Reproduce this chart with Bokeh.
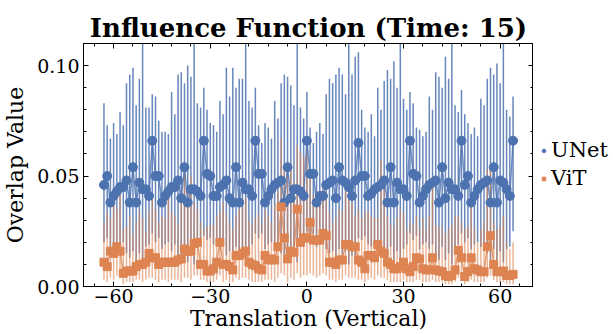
from bokeh.plotting import figure
from bokeh.layouts import row
from bokeh.models import (ColumnDataSource, Range1d, FixedTicker, LinearAxis, Legend,
                          LegendItem, NumeralTickFormatter, CustomJSTickFormatter)
from bokeh.embed import file_html
from bokeh.resources import INLINE

x = list(range(-63, 65))

unet_mean = [
    0.046, 0.050, 0.038, 0.041, 0.043, 0.045, 0.045, 0.048, 0.038, 0.054, 0.038, 0.047, 0.044, 0.044, 0.041,
    0.066, 0.050, 0.050, 0.038, 0.041, 0.043, 0.045, 0.045, 0.048, 0.040, 0.054, 0.038, 0.044, 0.044, 0.043, 0.041,
    0.066, 0.051, 0.050, 0.041, 0.041, 0.045, 0.046, 0.048, 0.040, 0.038, 0.054, 0.038, 0.047, 0.044, 0.044, 0.041,
    0.066, 0.051, 0.051, 0.038, 0.041, 0.044, 0.046, 0.047, 0.048, 0.038, 0.054, 0.040, 0.044, 0.044, 0.043, 0.041,
    0.066, 0.051, 0.051, 0.038, 0.041, 0.041, 0.046, 0.047, 0.048, 0.040, 0.054, 0.048, 0.047, 0.045, 0.041, 0.048,
    0.065, 0.050, 0.050, 0.041, 0.042, 0.044, 0.045, 0.046, 0.048, 0.038, 0.054, 0.038, 0.047, 0.044, 0.044, 0.041,
    0.066, 0.051, 0.050, 0.038, 0.041, 0.044, 0.046, 0.047, 0.048, 0.038, 0.054, 0.040, 0.047, 0.044, 0.044, 0.041,
    0.066, 0.046, 0.050, 0.038, 0.041, 0.044, 0.046, 0.047, 0.048, 0.038, 0.054, 0.038, 0.048, 0.047, 0.044, 0.041,
    0.066,
]
unet_upper = [
    0.083, 0.073, 0.067, 0.074, 0.069, 0.079, 0.073, 0.092, 0.096, 0.099, 0.082, 0.094, 0.115, 0.081, 0.081,
    0.087, 0.086, 0.075, 0.070, 0.070, 0.069, 0.088, 0.078, 0.096, 0.097, 0.092, 0.100, 0.095, 0.115, 0.083, 0.081,
    0.090, 0.080, 0.074, 0.073, 0.070, 0.084, 0.078, 0.099, 0.086, 0.099, 0.090, 0.094, 0.094, 0.115, 0.084, 0.081,
    0.090, 0.073, 0.065, 0.074, 0.072, 0.067, 0.084, 0.076, 0.092, 0.096, 0.095, 0.091, 0.082, 0.115, 0.081, 0.076,
    0.088, 0.072, 0.065, 0.070, 0.074, 0.069, 0.087, 0.094, 0.092, 0.096, 0.099, 0.096, 0.087, 0.115, 0.096, 0.104,
    0.106, 0.080, 0.072, 0.070, 0.078, 0.068, 0.090, 0.080, 0.093, 0.098, 0.094, 0.102, 0.090, 0.115, 0.085, 0.080,
    0.088, 0.083, 0.072, 0.071, 0.068, 0.070, 0.086, 0.080, 0.097, 0.095, 0.090, 0.104, 0.094, 0.115, 0.082, 0.079,
    0.089, 0.078, 0.074, 0.069, 0.072, 0.068, 0.085, 0.082, 0.094, 0.099, 0.096, 0.101, 0.092, 0.112, 0.080, 0.077,
    0.086,
]
unet_lower = [
    0.020, 0.022, 0.016, 0.018, 0.019, 0.017, 0.020, 0.015, 0.013, 0.016, 0.012, 0.015, 0.012, 0.018, 0.019,
    0.024, 0.020, 0.022, 0.017, 0.019, 0.020, 0.016, 0.019, 0.014, 0.013, 0.017, 0.011, 0.014, 0.010, 0.018, 0.019,
    0.023, 0.021, 0.022, 0.019, 0.020, 0.017, 0.019, 0.014, 0.016, 0.013, 0.018, 0.012, 0.015, 0.010, 0.017, 0.019,
    0.024, 0.022, 0.024, 0.017, 0.019, 0.020, 0.017, 0.019, 0.015, 0.013, 0.017, 0.014, 0.018, 0.011, 0.018, 0.019,
    0.025, 0.023, 0.024, 0.018, 0.019, 0.020, 0.017, 0.015, 0.016, 0.013, 0.017, 0.014, 0.016, 0.010, 0.014, 0.013,
    0.022, 0.021, 0.023, 0.019, 0.018, 0.020, 0.016, 0.019, 0.015, 0.012, 0.018, 0.011, 0.016, 0.010, 0.017, 0.019,
    0.024, 0.021, 0.023, 0.017, 0.019, 0.020, 0.017, 0.019, 0.014, 0.012, 0.018, 0.012, 0.015, 0.010, 0.018, 0.019,
    0.024, 0.020, 0.022, 0.017, 0.019, 0.020, 0.018, 0.018, 0.015, 0.012, 0.017, 0.011, 0.016, 0.011, 0.017, 0.018,
    0.025,
]

vit_mean = [
    0.011, 0.009, 0.016, 0.015, 0.018, 0.016, 0.006, 0.007, 0.007, 0.007, 0.009, 0.010, 0.010, 0.011, 0.015,
    0.013, 0.013, 0.010, 0.011, 0.011, 0.011, 0.011, 0.011, 0.012, 0.0125, 0.017, 0.016, 0.016, 0.0195, 0.020, 0.010,
    0.010, 0.007, 0.007, 0.008, 0.011, 0.020, 0.010, 0.010, 0.009, 0.0075, 0.014, 0.014, 0.015, 0.016, 0.011, 0.010,
    0.0094, 0.008, 0.0075, 0.014, 0.012, 0.0125, 0.012, 0.018, 0.036, 0.022, 0.0125, 0.016, 0.0155, 0.035, 0.020, 0.022,
    0.022, 0.029, 0.021, 0.021, 0.021, 0.024, 0.023, 0.011, 0.011, 0.010, 0.012, 0.012, 0.019, 0.019, 0.018, 0.018,
    0.012, 0.011, 0.008, 0.014, 0.014, 0.013, 0.019, 0.016, 0.015, 0.011, 0.010, 0.008, 0.008, 0.009, 0.011, 0.008,
    0.0067, 0.009, 0.013, 0.0125, 0.008, 0.0075, 0.0075, 0.013, 0.0075, 0.007, 0.0067, 0.005, 0.0045, 0.005, 0.0075, 0.0164,
    0.013, 0.0045, 0.0067, 0.013, 0.008, 0.0075, 0.0067, 0.0067, 0.018, 0.023, 0.010, 0.0067, 0.0067, 0.007, 0.005, 0.005,
    0.0055,
]
vit_upper = [
    0.029, 0.034, 0.031, 0.037, 0.035, 0.044, 0.026, 0.027, 0.032, 0.024, 0.029, 0.034, 0.031, 0.025, 0.034,
    0.040, 0.035, 0.029, 0.032, 0.031, 0.046, 0.034, 0.032, 0.028, 0.040, 0.054, 0.043, 0.050, 0.038, 0.035, 0.029,
    0.026, 0.027, 0.028, 0.028, 0.032, 0.034, 0.038, 0.033, 0.029, 0.026, 0.032, 0.035, 0.036, 0.040, 0.030, 0.028,
    0.031, 0.033, 0.028, 0.035, 0.032, 0.029, 0.037, 0.043, 0.067, 0.053, 0.050, 0.055, 0.047, 0.064, 0.061, 0.059,
    0.062, 0.051, 0.041, 0.040, 0.043, 0.044, 0.040, 0.034, 0.029, 0.031, 0.035, 0.034, 0.043, 0.041, 0.038, 0.032,
    0.035, 0.031, 0.034, 0.034, 0.032, 0.031, 0.031, 0.057, 0.044, 0.032, 0.028, 0.027, 0.031, 0.035, 0.033, 0.026,
    0.029, 0.028, 0.032, 0.026, 0.031, 0.026, 0.032, 0.050, 0.028, 0.027, 0.026, 0.024, 0.026, 0.028, 0.032, 0.032,
    0.029, 0.026, 0.027, 0.042, 0.026, 0.020, 0.026, 0.029, 0.053, 0.055, 0.029, 0.026, 0.027, 0.032, 0.020, 0.017,
    0.020,
]
vit_lower = [
    0.003, 0.002, 0.004, 0.003, 0.005, 0.004, 0.001, 0.002, 0.002, 0.002, 0.003, 0.003, 0.002, 0.003, 0.004,
    0.004, 0.003, 0.002, 0.003, 0.003, 0.002, 0.003, 0.003, 0.003, 0.002, 0.004, 0.004, 0.003, 0.005, 0.005, 0.003,
    0.003, 0.002, 0.001, 0.002, 0.003, 0.005, 0.002, 0.003, 0.002, 0.002, 0.004, 0.003, 0.004, 0.004, 0.003, 0.002,
    0.002, 0.002, 0.002, 0.003, 0.003, 0.003, 0.002, 0.004, 0.006, 0.005, 0.002, 0.004, 0.003, 0.006, 0.004, 0.005,
    0.005, 0.006, 0.005, 0.004, 0.005, 0.006, 0.005, 0.003, 0.003, 0.002, 0.003, 0.003, 0.005, 0.004, 0.004, 0.004,
    0.003, 0.003, 0.002, 0.003, 0.004, 0.003, 0.005, 0.004, 0.004, 0.003, 0.002, 0.002, 0.002, 0.002, 0.003, 0.002,
    0.002, 0.002, 0.003, 0.003, 0.002, 0.002, 0.002, 0.003, 0.002, 0.002, 0.002, 0.001, 0.001, 0.001, 0.002, 0.004,
    0.003, 0.001, 0.002, 0.003, 0.002, 0.002, 0.002, 0.002, 0.004, 0.005, 0.003, 0.002, 0.002, 0.002, 0.001, 0.001,
    0.001,
]

series_names = ["UNet", "ViT"]
x_ticks = [-60, -30, 0, 30, 60]
y_ticks = [0.0, 0.05, 0.10]

BLUE = "#4c72b0"
ORANGE = "#dd8452"
FONT = "DejaVu Serif"

src_u = ColumnDataSource(dict(x=x, y=unet_mean, lo=unet_lower, hi=unet_upper))
src_v = ColumnDataSource(dict(x=x, y=vit_mean, lo=vit_lower, hi=vit_upper))

p = figure(width=533, height=334, output_backend="svg", toolbar_location=None,
           x_range=Range1d(-69.35, 70.35), y_range=Range1d(0.0, 0.11),
           min_border_left=82, min_border_right=0, min_border_top=43, min_border_bottom=48,
           title="Influence Function (Time: 15)")
p.title.text_font = FONT
p.title.text_font_size = "26px"
p.title.text_font_style = "bold"
p.title.text_color = "black"
p.title.align = "center"
p.title.standoff = 2
p.outline_line_color = "black"
p.outline_line_alpha = 1
p.xgrid.visible = False
p.ygrid.visible = False
p.background_fill_color = "white"
p.border_fill_color = "white"

p.segment(x0="x", y0="lo", x1="x", y1="hi", source=src_u, line_color=BLUE, line_width=1.5, line_alpha=0.85)
p.segment(x0="x", y0="lo", x1="x", y1="hi", source=src_v, line_color=ORANGE, line_width=1.5, line_alpha=0.6)
p.line("x", "y", source=src_u, line_color=BLUE, line_width=1.5, line_alpha=0.8)
p.scatter("x", "y", source=src_u, marker="circle", size=9, fill_color=BLUE, line_color=BLUE)
p.line("x", "y", source=src_v, line_color=ORANGE, line_width=1.5, line_alpha=0.8)
p.scatter("x", "y", source=src_v, marker="square", size=8, fill_color=ORANGE, line_color=ORANGE)

x_minor = [-66, -54, -48, -42, -36, -24, -18, -12, -6, 6, 12, 18, 24, 36, 42, 48, 54, 66]
y_minor = [0.01, 0.02, 0.03, 0.04, 0.06, 0.07, 0.08, 0.09]


def style_axis(ax, ticks, minor):
    ax.ticker = FixedTicker(ticks=ticks, minor_ticks=minor)
    ax.major_tick_in = 5
    ax.major_tick_out = 0
    ax.minor_tick_in = 3
    ax.minor_tick_out = 0
    ax.axis_line_color = "black"
    ax.major_tick_line_color = "black"
    ax.minor_tick_line_color = "black"
    ax.major_label_text_font = FONT
    ax.major_label_text_font_size = "19px"
    ax.major_label_text_color = "black"
    ax.axis_label_text_font = FONT
    ax.axis_label_text_font_size = "22px"
    ax.axis_label_text_font_style = "normal"
    ax.axis_label_text_color = "black"


style_axis(p.xaxis[0], x_ticks, x_minor)
style_axis(p.yaxis[0], y_ticks, y_minor)
p.xaxis[0].axis_label = "Translation (Vertical)"
p.yaxis[0].axis_label = "Overlap Value"
p.xaxis[0].major_label_standoff = 2
p.xaxis[0].axis_label_standoff = 0
p.yaxis[0].major_label_standoff = 4
p.yaxis[0].axis_label_standoff = 6
p.yaxis[0].formatter = NumeralTickFormatter(format="0.00")

top_ax = LinearAxis(formatter=CustomJSTickFormatter(code="return '';"))
style_axis(top_ax, x_ticks, x_minor)
top_ax.major_label_standoff = 0
p.add_layout(top_ax, "above")
right_ax = LinearAxis(formatter=CustomJSTickFormatter(code="return '';"))
style_axis(right_ax, y_ticks, y_minor)
right_ax.major_label_standoff = 0
p.add_layout(right_ax, "right")

# legend panel to the right of the frame (its swatch glyphs sit outside its own range)
lf = figure(width=80, height=334, output_backend="svg", toolbar_location=None,
            x_range=Range1d(0, 1), y_range=Range1d(0, 1), min_border=0)
lf.axis.visible = False
lf.xgrid.visible = False
lf.ygrid.visible = False
lf.outline_line_color = None
lf.background_fill_color = "white"
lf.border_fill_color = "white"
lr_u = lf.scatter(x=[-5], y=[-5], marker="circle", size=9, fill_color=BLUE, line_color=BLUE)
lr_v = lf.scatter(x=[-5], y=[-5], marker="square", size=8, fill_color=ORANGE, line_color=ORANGE)
legend = Legend(items=[LegendItem(label=series_names[0], renderers=[lr_u]),
                       LegendItem(label=series_names[1], renderers=[lr_v])],
                location=(6, 96), orientation="vertical",
                border_line_color=None, background_fill_alpha=0,
                label_text_font=FONT, label_text_font_size="21px", label_text_color="black",
                glyph_width=9, glyph_height=9, label_standoff=3, spacing=4,
                padding=0, margin=0)
lf.add_layout(legend, "center")

open("out.html", "w").write(file_html(row(p, lf), INLINE))
